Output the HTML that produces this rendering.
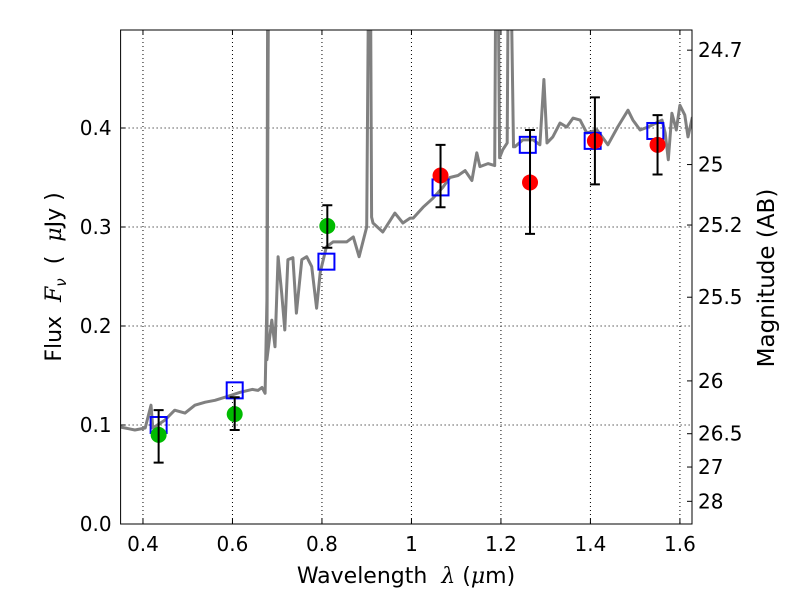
<!DOCTYPE html>
<html><head><meta charset="utf-8"><style>
body{margin:0;background:#fff;}
svg text{font-family:"DejaVu Sans","Liberation Sans",sans-serif;}
</style></head><body>
<svg id="chart" width="800" height="600" xmlns="http://www.w3.org/2000/svg">
<rect width="800" height="600" fill="#fff"/>
<g id="grid"></g>
<g id="spec"></g>
<g id="marks"></g>
<rect x="120.6" y="30" width="571.4" height="494" fill="none" stroke="#000" stroke-width="1"/>
<g id="axes"></g>
<text x="406" y="583" font-size="22" text-anchor="middle" xml:space="preserve">Wavelength  <tspan font-style="italic" font-family="DejaVu Serif,serif">λ</tspan> (<tspan font-style="italic" font-family="DejaVu Serif,serif">μ</tspan>m)</text>
<text transform="translate(61,277) rotate(-90)" font-size="22" text-anchor="middle" xml:space="preserve">Flux  <tspan font-style="italic" font-family="DejaVu Serif,serif">F</tspan><tspan font-style="italic" font-size="15" dy="5">ν</tspan><tspan dy="-5">  (  </tspan><tspan font-style="italic" font-family="DejaVu Serif,serif">μ</tspan>Jy )</text>
<text transform="translate(774,278) rotate(-90)" font-size="23" text-anchor="middle">Magnitude (AB)</text>
</svg>
<script>
const specWave=[0.349,0.382,0.405,0.418,0.422,0.449,0.471,0.494,0.516,0.539,0.561,0.590,0.617,0.644,0.657,0.666,0.673,0.677,0.679,0.681,0.677,0.688,0.695,0.702,0.71,0.717,0.724,0.735,0.743,0.755,0.766,0.777,0.788,0.796,0.81,0.825,0.855,0.87,0.883,0.90,0.905,0.908,0.911,0.914,0.936,0.963,0.981,0.997,1.004,1.026,1.048,1.07,1.086,1.104,1.12,1.135,1.146,1.153,1.171,1.186,1.189,1.193,1.197,1.204,1.214,1.217,1.221,1.228,1.231,1.249,1.272,1.287,1.296,1.303,1.316,1.332,1.347,1.361,1.377,1.392,1.415,1.439,1.461,1.484,1.495,1.511,1.529,1.56,1.567,1.574,1.582,1.592,1.60,1.611,1.618,1.628];
const specFlux=[0.098,0.095,0.097,0.120,0.097,0.105,0.115,0.112,0.120,0.123,0.125,0.129,0.133,0.136,0.135,0.138,0.132,0.226,0.6,0.6,0.166,0.206,0.179,0.270,0.233,0.196,0.267,0.269,0.213,0.267,0.270,0.260,0.218,0.254,0.280,0.285,0.285,0.290,0.270,0.300,0.6,0.6,0.31,0.304,0.295,0.314,0.304,0.309,0.309,0.320,0.329,0.340,0.350,0.352,0.357,0.347,0.375,0.361,0.364,0.362,0.6,0.6,0.37,0.378,0.385,0.6,0.6,0.381,0.381,0.388,0.388,0.383,0.449,0.385,0.391,0.405,0.401,0.410,0.408,0.395,0.398,0.383,0.401,0.418,0.408,0.398,0.401,0.408,0.395,0.368,0.415,0.398,0.423,0.413,0.391,0.411];
const modelWave=[0.435,0.605,0.81,1.065,1.26,1.405,1.545];
const modelFlux=[0.100,0.135,0.265,0.340,0.383,0.387,0.397];
const greenWave=[0.435,0.605,0.812];
const greenFlux=[0.090,0.111,0.301];
const greenLo=[0.062,0.095,0.279];
const greenHi=[0.115,0.128,0.322];
const redWave=[1.065,1.265,1.41,1.55];
const redFlux=[0.352,0.345,0.387,0.383];
const redLo=[0.320,0.293,0.343,0.353];
const redHi=[0.383,0.398,0.431,0.413];
const xTicks=[0.4,0.6,0.8,1.0,1.2,1.4,1.6];
const xTickLabels=["0.4","0.6","0.8","1","1.2","1.4","1.6"];
const yTicks=[0,0.1,0.2,0.3,0.4];
const yTickLabels=["0.0","0.1","0.2","0.3","0.4"];
const magTicks=[24.7,25,25.2,25.5,26,26.5,27,28];

const X0=120.6,X1=692,Y0=524,Y1=30,xmin=0.35,xmax=1.627,ymin=0,ymax=0.499;
const NS="http://www.w3.org/2000/svg";
function sx(v){return X0+(v-xmin)/(xmax-xmin)*(X1-X0);}
function sy(v){return Y0-(v-ymin)/(ymax-ymin)*(Y0-Y1);}
function mk(tag,attrs,parent){const e=document.createElementNS(NS,tag);for(const k in attrs)e.setAttribute(k,attrs[k]);parent.appendChild(e);return e;}
const grid=document.getElementById('grid'),axes=document.getElementById('axes'),spec=document.getElementById('spec'),marks=document.getElementById('marks');
xTicks.forEach((t,i)=>{const x=sx(t);
 let g=mk('line',{x1:x,x2:x,y1:Y1,y2:Y0,stroke:'#000','stroke-dasharray':'1,3','stroke-width':1},grid);
 
 let l=mk('line',{x1:x,x2:x,y1:Y0,y2:Y0-5,stroke:'#000'},axes);
 let l2=mk('line',{x1:x,x2:x,y1:Y1,y2:Y1+5,stroke:'#000'},axes);
 let tx=mk('text',{x:x,y:Y0+27,'font-size':20,'text-anchor':'middle'},axes);tx.textContent=xTickLabels[i];
 });
yTicks.forEach((t,i)=>{const y=sy(t);
 let g=mk('line',{x1:X0,x2:X1,y1:y,y2:y,stroke:'#000','stroke-dasharray':'1,3','stroke-width':1},grid);
 
 let l=mk('line',{x1:X0,x2:X0+5,y1:y,y2:y,stroke:'#000'},axes);
 let tx=mk('text',{x:X0-9,y:y+7,'font-size':20,'text-anchor':'end'},axes);tx.textContent=yTickLabels[i];
 });
magTicks.forEach(m=>{const f=Math.pow(10,(23.9-m)/2.5);const y=sy(f);
 let l=mk('line',{x1:X1,x2:X1-5,y1:y,y2:y,stroke:'#000'},axes);
 let tx=mk('text',{x:X1+6,y:y+7,'font-size':20},axes);tx.textContent=String(m);
 });
let cp=mk('clipPath',{id:'clip'},spec);mk('rect',{x:X0,y:Y1,width:X1-X0,height:Y0-Y1},cp);
let pts=specWave.map((w,i)=>sx(w).toFixed(1)+','+sy(specFlux[i]).toFixed(1)).join(' ');
let pl=mk('polyline',{points:pts,fill:'none',stroke:'#808080','stroke-width':3,'stroke-linejoin':'round','clip-path':'url(#clip)'},spec);

modelWave.forEach((w,i)=>{let r=mk('rect',{x:sx(w)-8,y:sy(modelFlux[i])-8,width:16,height:16,fill:'none',stroke:'#0000ff','stroke-width':2},marks);
 });
function pts2(W,F,L,H,col,name){W.forEach((w,i)=>{const x=sx(w);
 let c=mk('circle',{cx:x,cy:sy(F[i]),r:8,fill:col},marks);
 let e=mk('path',{d:`M${x},${sy(L[i])}V${sy(H[i])}M${x-5},${sy(L[i])}H${x+5}M${x-5},${sy(H[i])}H${x+5}`,stroke:'#000','stroke-width':2,fill:'none'},marks);
 });}
pts2(greenWave,greenFlux,greenLo,greenHi,'#00bb00','green-photometry');
pts2(redWave,redFlux,redLo,redHi,'#ff0000','red-photometry');
</script>
</body></html>
